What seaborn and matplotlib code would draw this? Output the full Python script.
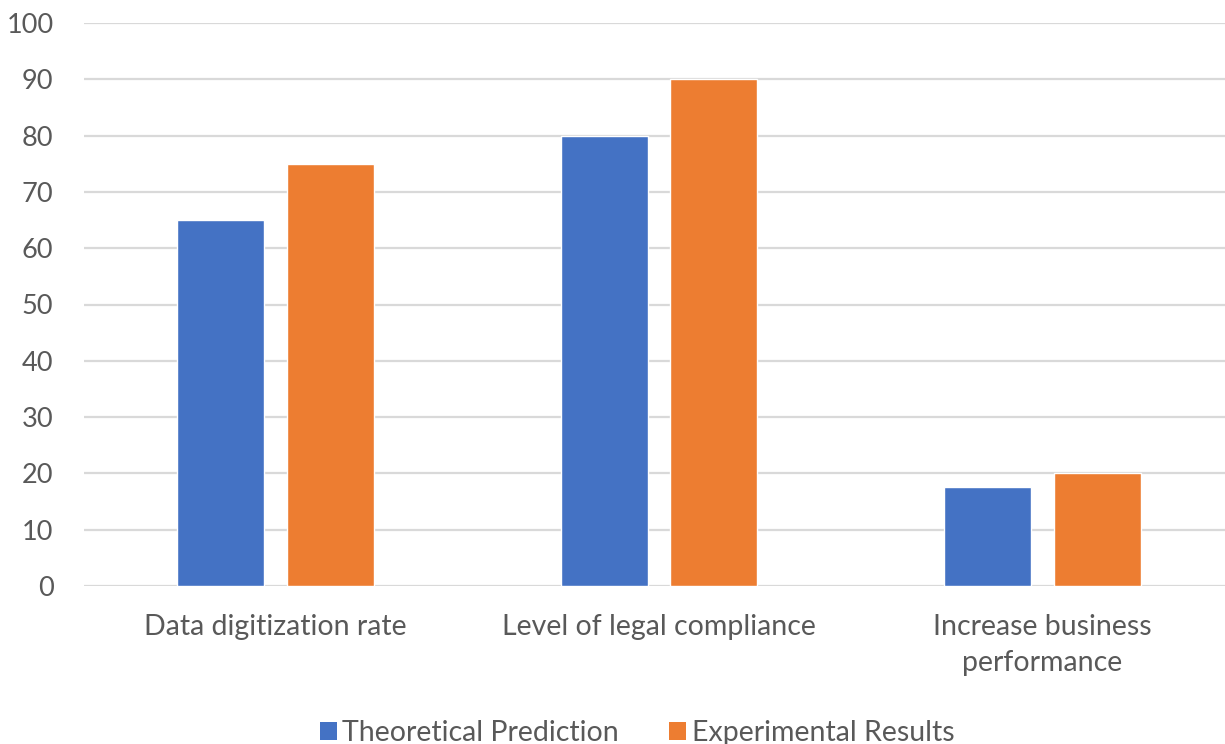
import matplotlib
matplotlib.use("Agg")
import matplotlib.pyplot as plt
import seaborn as sns
import pandas as pd
from matplotlib.patches import Patch

categories = ["Data digitization rate", "Level of legal compliance", "Increase business\nperformance"]
series_names = ["Theoretical Prediction", "Experimental Results"]
theoretical = [65, 80, 17.5]
experimental = [75, 90, 20]
y_ticks = [0, 10, 20, 30, 40, 50, 60, 70, 80, 90, 100]

colors = ["#4472C4", "#ED7D31"]
text_color = "#595959"
grid_color = "#D9D9D9"

df = pd.DataFrame({
    "category": categories * 2,
    "series": [series_names[0]] * 3 + [series_names[1]] * 3,
    "value": theoretical + experimental,
})

sns.set_theme(style="white")
plt.rcParams["font.family"] = ["Lato", "DejaVu Sans"]

fig = plt.figure(figsize=(12.25, 7.44), dpi=100)
ax = fig.add_axes([84 / 1225, 1 - 586 / 744, 1150 / 1225, (586 - 23) / 744])

sns.barplot(data=df, x="category", y="value", hue="series", order=categories,
            hue_order=series_names, palette=colors, width=0.571, gap=0.205,
            saturation=1, ax=ax, legend=False, zorder=3)

ax.set_ylim(0, 100)
ax.set_xlim(-0.5, 2.5)
ax.set_yticks(y_ticks)
ax.yaxis.grid(True, color=grid_color, linewidth=1.6, zorder=0)
ax.set_axisbelow(True)
for s in ax.spines.values():
    s.set_visible(False)
ax.set_xlabel("")
ax.set_ylabel("")
ax.tick_params(axis="both", length=0, labelcolor=text_color)
ax.tick_params(axis="x", labelsize=20.5, pad=20)
ax.tick_params(axis="y", labelsize=19.5, pad=22)
for lbl in ax.get_xticklabels():
    lbl.set_linespacing(1.5)
for lbl in ax.get_yticklabels():
    lbl.set_horizontalalignment("right")

handles = [Patch(facecolor=c, edgecolor="none") for c in colors]
fig.legend(handles, series_names, loc="lower center", bbox_to_anchor=(0.52, -0.037),
           ncol=2, frameon=False, fontsize=20.5, labelcolor=text_color,
           handlelength=0.6, handleheight=0.6, handletextpad=0.2, columnspacing=1.75)

fig.savefig("out.png", dpi=100)
